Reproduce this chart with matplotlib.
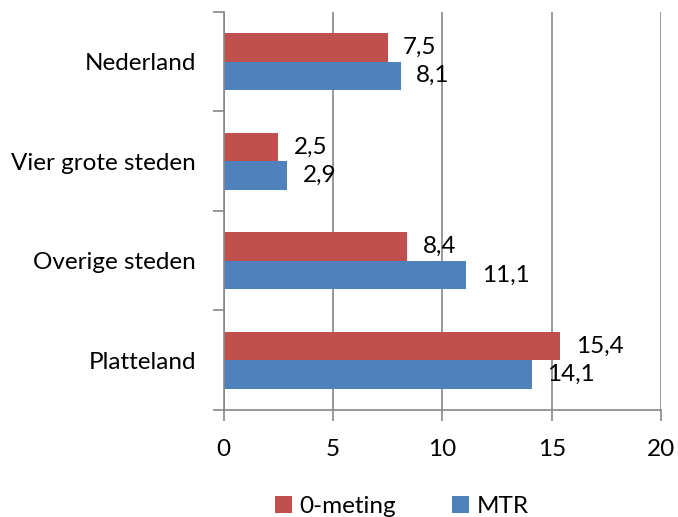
import numpy as np
import matplotlib.pyplot as plt

plt.rcParams['font.family'] = ['Lato', 'DejaVu Sans']

categories = ['Nederland', 'Vier grote steden', 'Overige steden', 'Platteland']
nulmeting = [7.5, 2.5, 8.4, 15.4]
mtr = [8.1, 2.9, 11.1, 14.1]
series_names = ['0-meting', 'MTR']

red = '#C0504D'
blue = '#4F81BD'
fs = 17.5

fig = plt.figure(figsize=(6.78, 5.17), dpi=100)
ax = fig.add_axes([0.330, 0.207, 0.645, 0.770])

y = np.arange(len(categories))[::-1]
h = 0.285
b1 = ax.barh(y + h / 2, nulmeting, height=h, color=red, label=series_names[0])
b2 = ax.barh(y - h / 2, mtr, height=h, color=blue, label=series_names[1])

for bars, vals in ((b1, nulmeting), (b2, mtr)):
    for bar, v in zip(bars, vals):
        ax.annotate(f'{v:.1f}'.replace('.', ','),
                    (bar.get_width(), bar.get_y() + bar.get_height() / 2),
                    xytext=(11, 0), textcoords='offset points',
                    va='center', ha='left', fontsize=fs)

ax.set_xlim(0, 20)
ax.set_xticks([0, 5, 10, 15, 20])
ax.set_ylim(-0.5, len(categories) - 0.5)
ax.set_yticks(y)
ax.set_yticklabels(categories)
ax.set_yticks(np.arange(len(categories) + 1) - 0.5, minor=True)
ax.tick_params(axis='y', which='major', length=0, pad=20, labelsize=fs)
ax.tick_params(axis='y', which='minor', length=8, color='#888888', width=1.2)
ax.tick_params(axis='x', length=8, color='#888888', width=1.2, pad=13, labelsize=fs)

ax.grid(axis='x', color='#888888', linewidth=1.2)
ax.set_axisbelow(True)
for s in ('top', 'right'):
    ax.spines[s].set_visible(False)
for s in ('left', 'bottom'):
    ax.spines[s].set_color('#888888')
    ax.spines[s].set_linewidth(1.2)

fig.legend(loc='lower center', bbox_to_anchor=(0.593, -0.042), ncol=2, frameon=False,
           fontsize=fs, handlelength=0.7, handleheight=0.7, handletextpad=0.3,
           columnspacing=2.3)

fig.savefig('out.png', dpi=100)
